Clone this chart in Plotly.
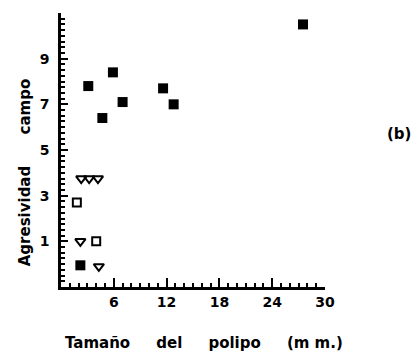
import plotly.graph_objects as go

# Data
filled_x = [27.5, 3.1, 5.9, 4.7, 7.0, 11.6, 12.8, 2.2]
filled_y = [10.5, 7.8, 8.4, 6.4, 7.1, 7.7, 7.0, -0.05]

open_sq_x = [1.8, 4.0]
open_sq_y = [2.7, 1.0]

tri_x = [2.3, 3.2, 4.2, 2.2, 4.3]
tri_y = [3.75, 3.75, 3.75, 1.0, -0.1]

x_ticks = [6, 12, 18, 24, 30]
y_ticks = [1, 3, 5, 7, 9]

FONT = "DejaVu Sans"

fig = go.Figure()
fig.add_trace(go.Scatter(x=filled_x, y=filled_y, mode="markers",
                         marker=dict(symbol="square", size=10, color="black",
                                     line=dict(width=0))))
fig.add_trace(go.Scatter(x=open_sq_x, y=open_sq_y, mode="markers",
                         marker=dict(symbol="square-open", size=8, color="black",
                                     line=dict(width=2))))
fig.add_trace(go.Scatter(x=tri_x, y=tri_y, mode="markers",
                         marker=dict(symbol="triangle-down-open", size=9, color="black",
                                     line=dict(width=2))))

fig.update_layout(
    width=420, height=354,
    margin=dict(l=61, r=95, t=13, b=67),
    plot_bgcolor="white", paper_bgcolor="white",
    showlegend=False,
    font=dict(family=FONT, size=13, color="black"),
)
fig.update_xaxes(
    range=[0, 30], showgrid=False, zeroline=False,
    showline=True, linecolor="black", linewidth=2.5,
    tickmode="array", tickvals=x_ticks, ticktext=[str(v) for v in x_ticks],
    ticks="inside", ticklen=9, tickwidth=2, tickcolor="black",
    minor=dict(dtick=1, tick0=0, ticks="inside", ticklen=4, tickwidth=1.5, tickcolor="black"),
    tickfont=dict(family=FONT, size=14, color="black", weight="bold"),
)
fig.update_yaxes(
    range=[-1, 11], showgrid=False, zeroline=False,
    showline=True, linecolor="black", linewidth=2.5,
    tickmode="array", tickvals=y_ticks, ticktext=[str(v) for v in y_ticks],
    ticks="inside", ticklen=7, tickwidth=2, tickcolor="black",
    minor=dict(dtick=0.25, tick0=-1, ticks="inside", ticklen=4, tickwidth=1.5, tickcolor="black"),
    tickfont=dict(family=FONT, size=14, color="black", weight="bold"),
    ticklabelstandoff=6,
)

fig.add_annotation(text="Agresividad      campo", xref="paper", yref="paper",
                   x=-0.135, y=0.42, xanchor="center", yanchor="middle",
                   textangle=-90, showarrow=False,
                   font=dict(family=FONT, size=15, color="black", weight="bold"))
fig.add_annotation(text="Tamaño     del     polipo     (m m.)", xref="paper", yref="paper",
                   x=0.54, y=-0.204, xanchor="center", yanchor="middle",
                   showarrow=False,
                   font=dict(family=FONT, size=15, color="black", weight="bold"))
fig.add_annotation(text="(b)", xref="paper", yref="paper",
                   x=1.28, y=0.56, xanchor="center", yanchor="middle",
                   showarrow=False,
                   font=dict(family=FONT, size=15, color="black", weight="bold"))

fig.write_html("out.html")
